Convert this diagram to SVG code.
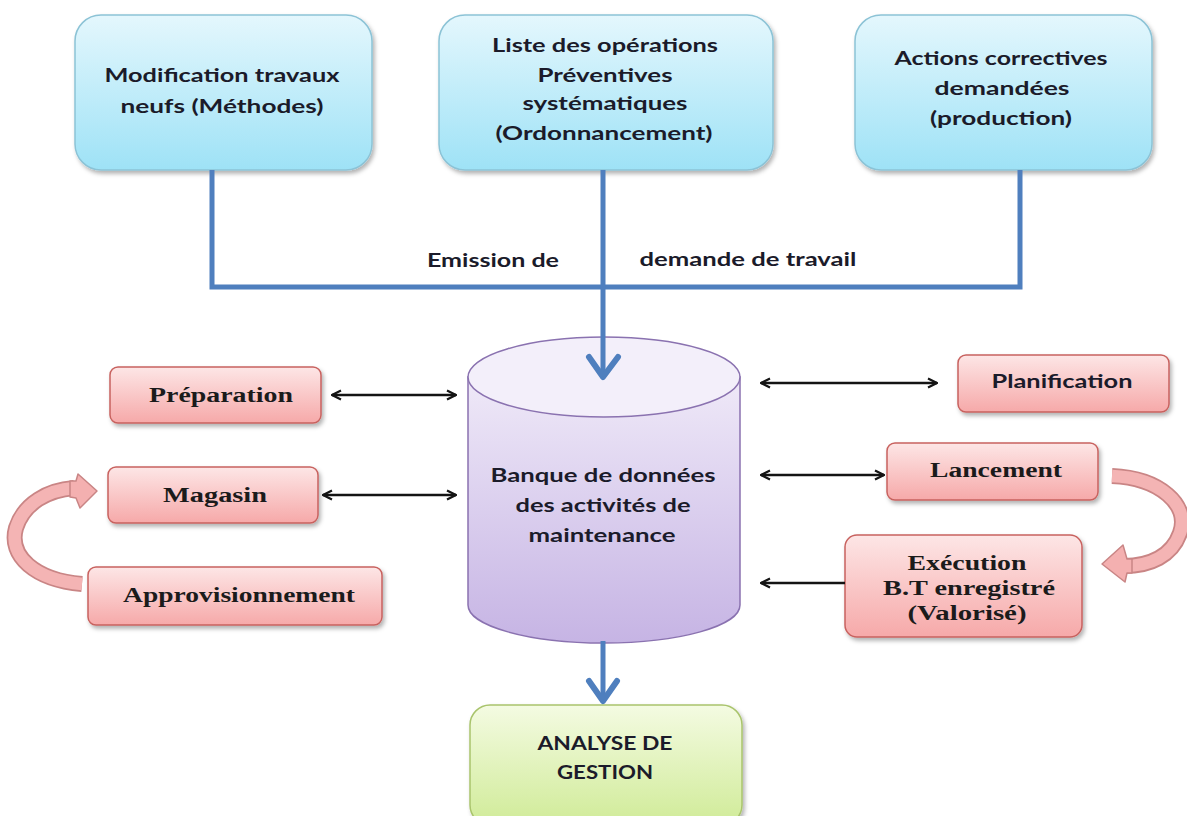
<svg xmlns="http://www.w3.org/2000/svg" width="1187" height="816" viewBox="0 0 1187 816">
  <style>
    .sans { font-family: Lato, "Open Sans", "Liberation Sans", sans-serif; font-weight: bold; font-size: 18px; fill: #1b1b2a; text-anchor: middle; }
    .serif { font-family: "Liberation Serif", "DejaVu Serif", serif; font-weight: bold; font-size: 20px; fill: #1b1b1b; text-anchor: middle; }
    .blue-box { fill: url(#gBlue); stroke: #8cc3d6; stroke-width: 1.5; filter: url(#shadow); }
    .pink-box { fill: url(#gPink); stroke: #c8625f; stroke-width: 1.5; filter: url(#shadow); }
    .green-box { fill: url(#gGreen); stroke: #a9c46c; stroke-width: 1.5; filter: url(#shadow); }
    .flow { fill: none; stroke: #4f7fbe; stroke-width: 5; }
    .chev { fill: none; stroke: #4f7fbe; stroke-width: 6; stroke-linecap: round; stroke-linejoin: round; }
    .link { fill: none; stroke: #141414; stroke-width: 2.5; }
    .curl-out { fill: none; stroke: #c98585; stroke-width: 16; }
    .curl-in { fill: none; stroke: #f4b4b4; stroke-width: 12.5; }
    .curl-head { fill: #f4b0b0; stroke: #c98585; stroke-width: 1.5; stroke-linejoin: round; }
  </style>
  <defs>
    <linearGradient id="gBlue" x1="0" y1="0" x2="0" y2="1">
      <stop offset="0" stop-color="#e4f7fd"/>
      <stop offset="1" stop-color="#9ee2f6"/>
    </linearGradient>
    <linearGradient id="gPink" x1="0" y1="0" x2="0" y2="1">
      <stop offset="0" stop-color="#fde6e6"/>
      <stop offset="1" stop-color="#f6a9a9"/>
    </linearGradient>
    <linearGradient id="gGreen" x1="0" y1="0" x2="0" y2="1">
      <stop offset="0" stop-color="#f4fbe2"/>
      <stop offset="1" stop-color="#d0eb98"/>
    </linearGradient>
    <linearGradient id="gCyl" x1="0" y1="0" x2="0" y2="1">
      <stop offset="0" stop-color="#efe9f8"/>
      <stop offset="1" stop-color="#c6b4e4"/>
    </linearGradient>
    <filter id="shadow" x="-10%" y="-10%" width="125%" height="135%">
      <feDropShadow dx="2" dy="3" stdDeviation="2" flood-color="#000" flood-opacity="0.3"/>
    </filter>
    <marker id="tip" viewBox="0 0 12 12" refX="11" refY="6" markerWidth="12" markerHeight="12" markerUnits="userSpaceOnUse" orient="auto-start-reverse">
      <path d="M2,1.5 L11,6 L2,10.5" fill="none" stroke="#141414" stroke-width="2.2"/>
    </marker>
  </defs>

  <rect width="1187" height="816" fill="#ffffff"/>

  <!-- labels on the request line -->
  <text class="sans" x="493" y="267" textLength="132" lengthAdjust="spacingAndGlyphs">Emission de</text>
  <text class="sans" x="748" y="266" textLength="217" lengthAdjust="spacingAndGlyphs">demande de travail</text>

  <g id="node-methodes">
    <rect class="blue-box" x="75" y="15" width="297" height="155" rx="26"/>
    <text class="sans" x="222" y="82" textLength="235" lengthAdjust="spacingAndGlyphs">Modification travaux</text>
    <text class="sans" x="222" y="113" textLength="203" lengthAdjust="spacingAndGlyphs">neufs (Méthodes)</text>
  </g>

  <g id="node-ordonnancement">
    <rect class="blue-box" x="439" y="15" width="334" height="155" rx="26"/>
    <text class="sans" x="605" y="52" textLength="226" lengthAdjust="spacingAndGlyphs">Liste des opérations</text>
    <text class="sans" x="605" y="82" textLength="135" lengthAdjust="spacingAndGlyphs">Préventives</text>
    <text class="sans" x="605" y="110" textLength="165" lengthAdjust="spacingAndGlyphs">systématiques</text>
    <text class="sans" x="604" y="140" textLength="217" lengthAdjust="spacingAndGlyphs">(Ordonnancement)</text>
  </g>

  <g id="node-production">
    <rect class="blue-box" x="855" y="15" width="297" height="155" rx="26"/>
    <text class="sans" x="1001" y="65" textLength="213" lengthAdjust="spacingAndGlyphs">Actions correctives</text>
    <text class="sans" x="1002" y="95" textLength="135" lengthAdjust="spacingAndGlyphs">demandées</text>
    <text class="sans" x="1001" y="125" textLength="142" lengthAdjust="spacingAndGlyphs">(production)</text>
  </g>

  <g id="node-banque">
    <path d="M468,377 V605 A136,38 0 0 0 740,605 V377 Z" fill="url(#gCyl)" stroke="#8a72b0" stroke-width="1.5"/>
    <ellipse cx="604" cy="377" rx="136" ry="40" fill="#f3effa" stroke="#8a72b0" stroke-width="1.5"/>
    <text class="sans" x="603" y="482" textLength="225" lengthAdjust="spacingAndGlyphs">Banque de données</text>
    <text class="sans" x="603" y="512" textLength="175" lengthAdjust="spacingAndGlyphs">des activités de</text>
    <text class="sans" x="602" y="542" textLength="147" lengthAdjust="spacingAndGlyphs">maintenance</text>
  </g>

  <g id="node-analyse">
    <rect class="green-box" x="470" y="705" width="272" height="120" rx="20"/>
    <text class="sans" x="605" y="750" textLength="135" lengthAdjust="spacingAndGlyphs">ANALYSE DE</text>
    <text class="sans" x="605" y="779" textLength="96" lengthAdjust="spacingAndGlyphs">GESTION</text>
  </g>

  <g id="node-preparation">
    <rect class="pink-box" x="110" y="367" width="211" height="56" rx="8"/>
    <text class="serif" x="221" y="402" textLength="144" lengthAdjust="spacingAndGlyphs">Préparation</text>
  </g>

  <g id="node-magasin">
    <rect class="pink-box" x="108" y="467" width="210" height="56" rx="8"/>
    <text class="serif" x="215" y="502" textLength="104" lengthAdjust="spacingAndGlyphs">Magasin</text>
  </g>

  <g id="node-approvisionnement">
    <rect class="pink-box" x="88" y="567" width="294" height="58" rx="8"/>
    <text class="serif" x="239" y="602" textLength="232" lengthAdjust="spacingAndGlyphs">Approvisionnement</text>
  </g>

  <g id="node-planification">
    <rect class="pink-box" x="958" y="355" width="211" height="57" rx="8"/>
    <text class="sans" x="1062" y="388" textLength="141" lengthAdjust="spacingAndGlyphs">Planification</text>
  </g>

  <g id="node-lancement">
    <rect class="pink-box" x="887" y="443" width="211" height="57" rx="8"/>
    <text class="serif" x="996" y="477" textLength="132" lengthAdjust="spacingAndGlyphs">Lancement</text>
  </g>

  <g id="node-execution">
    <rect class="pink-box" x="845" y="535" width="237" height="102" rx="12"/>
    <text class="serif" x="967" y="570" textLength="119" lengthAdjust="spacingAndGlyphs">Exécution</text>
    <text class="serif" x="969" y="595" textLength="172" lengthAdjust="spacingAndGlyphs">B.T enregistré</text>
    <text class="serif" x="967" y="620" textLength="119" lengthAdjust="spacingAndGlyphs">(Valorisé)</text>
  </g>

  <!-- connectors, drawn over the nodes -->
  <g id="connectors">
    <path class="flow" d="M212,170 V287 H1020 V170"/>
    <path class="flow" d="M603,170 V374"/>
    <polyline class="chev" points="589,357 603,377 618,357"/>
    <path class="flow" d="M603,641 V698"/>
    <polyline class="chev" points="589,681 603,701 617,681"/>

    <line class="link" x1="332" y1="395" x2="456" y2="395" marker-start="url(#tip)" marker-end="url(#tip)"/>
    <line class="link" x1="323" y1="495" x2="456" y2="495" marker-start="url(#tip)" marker-end="url(#tip)"/>
    <line class="link" x1="761" y1="383" x2="937" y2="383" marker-start="url(#tip)" marker-end="url(#tip)"/>
    <line class="link" x1="761" y1="475" x2="884" y2="475" marker-start="url(#tip)" marker-end="url(#tip)"/>
    <line class="link" x1="845" y1="583" x2="761" y2="583" marker-end="url(#tip)"/>

    <!-- curved supply arrow -->
    <path class="curl-out" d="M82,584 C35,580 8,556 16,528 C24,503 48,490 74,488"/>
    <path class="curl-in" d="M82,584 C35,580 8,556 16,528 C24,503 48,490 74,488"/>
    <polygon class="curl-head" points="78,474 97,491 80,508 76,498 70,497 70,481 76,481"/>

    <!-- curved launch arrow -->
    <path class="curl-out" d="M1112,476 C1160,478 1190,505 1180,533 C1172,556 1150,566 1124,566"/>
    <path class="curl-in" d="M1112,476 C1160,478 1190,505 1180,533 C1172,556 1150,566 1124,566"/>
    <polygon class="curl-head" points="1123,545 1102,564 1125,582 1127,573 1132,573 1132,559 1127,559"/>
  </g>
</svg>
